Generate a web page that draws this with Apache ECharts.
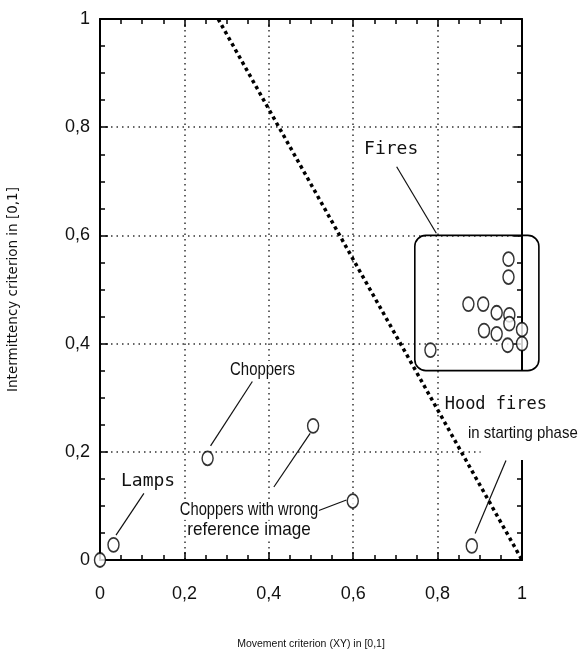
<!DOCTYPE html>
<html><head><meta charset="utf-8">
<script src="https://cdn.jsdelivr.net/npm/echarts@6/dist/echarts.min.js"></script>
<style>html,body{margin:0;padding:0;background:#fff}#c{width:579px;height:651px}</style>
</head><body><div id="c"></div>
<script>
// ---- data ----
const tickValues = [0, 0.2, 0.4, 0.6, 0.8, 1];
const tickLabels = ['0', '0,2', '0,4', '0,6', '0,8', '1'];
const xTitle = 'Movement criterion (XY) in [0,1]';
const yTitle = 'Intermittency criterion in [0,1]';
const lamps = [[0, 0], [0.032, 0.028]];
const choppers = [[0.255, 0.188]];
const choppersWrong = [[0.505, 0.248], [0.599, 0.109]];
const hoodFires = [[0.881, 0.026]];
const fires = [
  [0.968, 0.556], [0.968, 0.523], [0.873, 0.473], [0.908, 0.473],
  [0.940, 0.457], [0.970, 0.453], [0.970, 0.437], [0.910, 0.424],
  [0.940, 0.418], [1.0, 0.426], [1.0, 0.400], [0.966, 0.397], [0.783, 0.388]
];
const threshold = [[0.28, 1], [1, 0]];
const firesBox = [[0.746, 0.6, 1.04, 0.35]];
const hoodMask = [[0.902, 0.35, 1.14, 0.185]];
const leaders = [
  [0.703, 0.727, 0.797, 0.604],
  [0.361, 0.330, 0.262, 0.211],
  [0.104, 0.123, 0.038, 0.046],
  [0.412, 0.135, 0.498, 0.234],
  [0.517, 0.091, 0.584, 0.111],
  [0.962, 0.184, 0.889, 0.049]
];
const annotTexts = ['Fires', 'Choppers', 'Lamps', 'Choppers with wrong', 'reference image', 'Hood fires', 'in starting phase'];
const annotAnchors = [[0.69, 0.76], [0.385, 0.351], [0.114, 0.146], [0.353, 0.092], [0.353, 0.055], [0.938, 0.287], [1.002, 0.235]];

// ---- styles ----
const annotStyles = [
  {font: '18px "DejaVu Sans Mono", monospace', sx: 1},
  {font: '18px "Liberation Sans", sans-serif', sx: 0.83},
  {font: '18px "DejaVu Sans Mono", monospace', sx: 1},
  {font: '19px "Liberation Sans", sans-serif', sx: 0.775},
  {font: '19px "Liberation Sans", sans-serif', sx: 0.9},
  {font: '17px "DejaVu Sans Mono", monospace', sx: 1},
  {font: '17px "Liberation Sans", sans-serif', sx: 0.88}
];
const chart = echarts.init(document.getElementById('c'), null, {renderer: 'canvas'});
const fmt = v => { const i = tickValues.findIndex(t => Math.abs(t - v) < 1e-6); return i >= 0 ? tickLabels[i] : ''; };
const baseAxis = {
  type: 'value', min: 0, max: 1, interval: 0.2,
  axisLine: {show: true, onZero: false, lineStyle: {color: '#000', width: 2}},
  axisTick: {show: true, inside: true, length: 8, lineStyle: {color: '#000', width: 1.5}},
  minorTick: {show: true, splitNumber: 4, length: 5, lineStyle: {color: '#000', width: 1.5}},
  splitLine: {show: false}
};
const tickFont = {fontFamily: '"Liberation Sans", sans-serif', fontSize: 18, color: '#111'};
const circleStyle = {color: '#fff', borderColor: '#000', borderWidth: 1.6};
const scatterBase = {type: 'scatter', symbol: 'circle', symbolSize: [11, 14], itemStyle: circleStyle, z: 5};
chart.setOption({
  animation: false,
  backgroundColor: '#fff',
  grid: {left: 100, right: 57, top: 19, bottom: 91, outerBoundsMode: 'none', containLabel: false},
  xAxis: [
    Object.assign({}, baseAxis, {
      position: 'bottom', name: xTitle, nameLocation: 'middle', nameGap: 79,
      nameTextStyle: {fontFamily: '"Liberation Sans", sans-serif', fontSize: 10.5, color: '#111'},
      axisLabel: Object.assign({formatter: fmt, margin: 25}, tickFont),
      splitLine: {show: true, lineStyle: {color: '#333', width: 1.5, type: [1.5, 4]}}
    }),
    Object.assign({}, baseAxis, {position: 'top', axisLabel: {show: false}})
  ],
  yAxis: [
    Object.assign({}, baseAxis, {
      position: 'left', name: yTitle, nameLocation: 'middle', nameGap: 80, nameRotate: 90,
      nameTextStyle: {fontFamily: '"DejaVu Sans", sans-serif', fontSize: 13.5, color: '#111'},
      axisLabel: Object.assign({formatter: fmt, margin: 10}, tickFont),
      splitLine: {show: true, lineStyle: {color: '#333', width: 1.5, type: [1.5, 4]}}
    }),
    Object.assign({}, baseAxis, {position: 'right', axisLabel: {show: false}})
  ],
  series: [
    {
      type: 'custom', z: 3, clip: false, data: hoodMask,
      renderItem: (p, api) => {
        const a = api.coord([api.value(0), api.value(1)]);
        const b = api.coord([api.value(2), api.value(3)]);
        return {type: 'rect', shape: {x: a[0], y: a[1], width: b[0] - a[0], height: b[1] - a[1]}, style: {fill: '#fff'}};
      }
    },
    {
      type: 'line', data: threshold, symbol: 'none', z: 4,
      lineStyle: {color: '#000', width: 3.5, type: [3.5, 3.5]}
    },
    {
      type: 'custom', z: 4, clip: false, data: firesBox,
      renderItem: (p, api) => {
        const a = api.coord([api.value(0), api.value(1)]);
        const b = api.coord([api.value(2), api.value(3)]);
        return {type: 'rect', shape: {x: a[0], y: a[1], width: b[0] - a[0], height: b[1] - a[1], r: 11},
          style: {fill: 'none', stroke: '#000', lineWidth: 1.6}};
      }
    },
    {
      type: 'custom', z: 4, clip: false, data: leaders,
      renderItem: (p, api) => {
        const a = api.coord([api.value(0), api.value(1)]);
        const b = api.coord([api.value(2), api.value(3)]);
        return {type: 'line', shape: {x1: a[0], y1: a[1], x2: b[0], y2: b[1]}, style: {stroke: '#111', lineWidth: 1.2}};
      }
    },
    {
      type: 'custom', z: 6, clip: false, data: annotAnchors.map((a, i) => [a[0], a[1], i]),
      renderItem: (p, api) => {
        const i = api.value(2);
        const a = api.coord([api.value(0), api.value(1)]);
        const st = annotStyles[i];
        return {type: 'text', x: a[0], y: a[1], scaleX: st.sx, scaleY: 1,
          style: {text: annotTexts[i], font: st.font, fill: '#111', align: 'center', verticalAlign: 'middle',
            backgroundColor: '#fff', padding: [0, 1]}};
      }
    },
    Object.assign({}, scatterBase, {data: lamps}),
    Object.assign({}, scatterBase, {data: choppers}),
    Object.assign({}, scatterBase, {data: choppersWrong}),
    Object.assign({}, scatterBase, {data: hoodFires}),
    Object.assign({}, scatterBase, {data: fires, clip: false})
  ]
});
</script></body></html>
